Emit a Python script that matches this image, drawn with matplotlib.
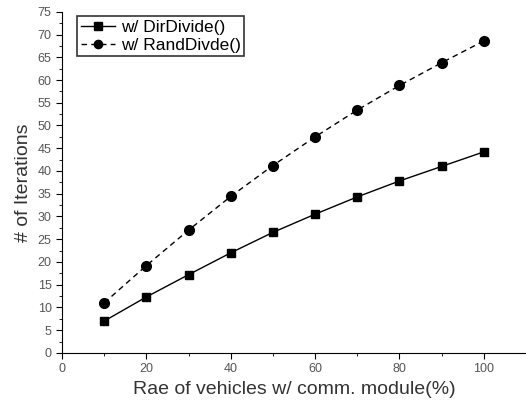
import matplotlib.pyplot as plt
from matplotlib.ticker import MultipleLocator

# data
rate = [10, 20, 30, 40, 50, 60, 70, 80, 90, 100]
dir_divide = [7.0, 12.3, 17.2, 22.0, 26.5, 30.5, 34.3, 37.8, 41.0, 44.2]
rand_divide = [11.0, 19.2, 27.0, 34.4, 41.2, 47.5, 53.4, 58.8, 63.8, 68.6]

plt.rcParams['font.family'] = ['Liberation Sans', 'DejaVu Sans']

fig = plt.figure(figsize=(5.26, 4.07), dpi=100)
ax = fig.add_axes([0.118, 0.133, 0.882, 0.838])

ax.plot(rate, dir_divide, '-', color='black', lw=1, marker='s', ms=6,
        label='w/ DirDivide()')
ax.plot(rate, rand_divide, '--', color='black', lw=1, marker='o', ms=7,
        dashes=(4, 3), label='w/ RandDivde()')

ax.set_xlim(0, 110)
ax.set_ylim(0, 75)
ax.xaxis.set_major_locator(MultipleLocator(20))
ax.xaxis.set_minor_locator(MultipleLocator(10))
ax.yaxis.set_major_locator(MultipleLocator(5))
ax.yaxis.set_minor_locator(MultipleLocator(2.5))

for side in ['top', 'right']:
    ax.spines[side].set_visible(False)
ax.tick_params(which='major', direction='out', length=4, labelsize=9,
               labelcolor='#555555')
ax.tick_params(which='minor', direction='out', length=2.5)

ax.set_xlabel('Rae of vehicles w/ comm. module(%)', fontsize=14, color='#333333')
ax.set_ylabel('# of Iterations', fontsize=14, color='#333333')

leg = ax.legend(loc='upper left', bbox_to_anchor=(0.025, 0.997), fontsize=12.5,
                fancybox=False, edgecolor='black', handlelength=2.0,
                handletextpad=0.3, borderpad=0.2, labelspacing=0.15,
                borderaxespad=0.2, markerscale=0.85)
leg.get_frame().set_linewidth(1.2)

fig.savefig('out.png', dpi=100)
